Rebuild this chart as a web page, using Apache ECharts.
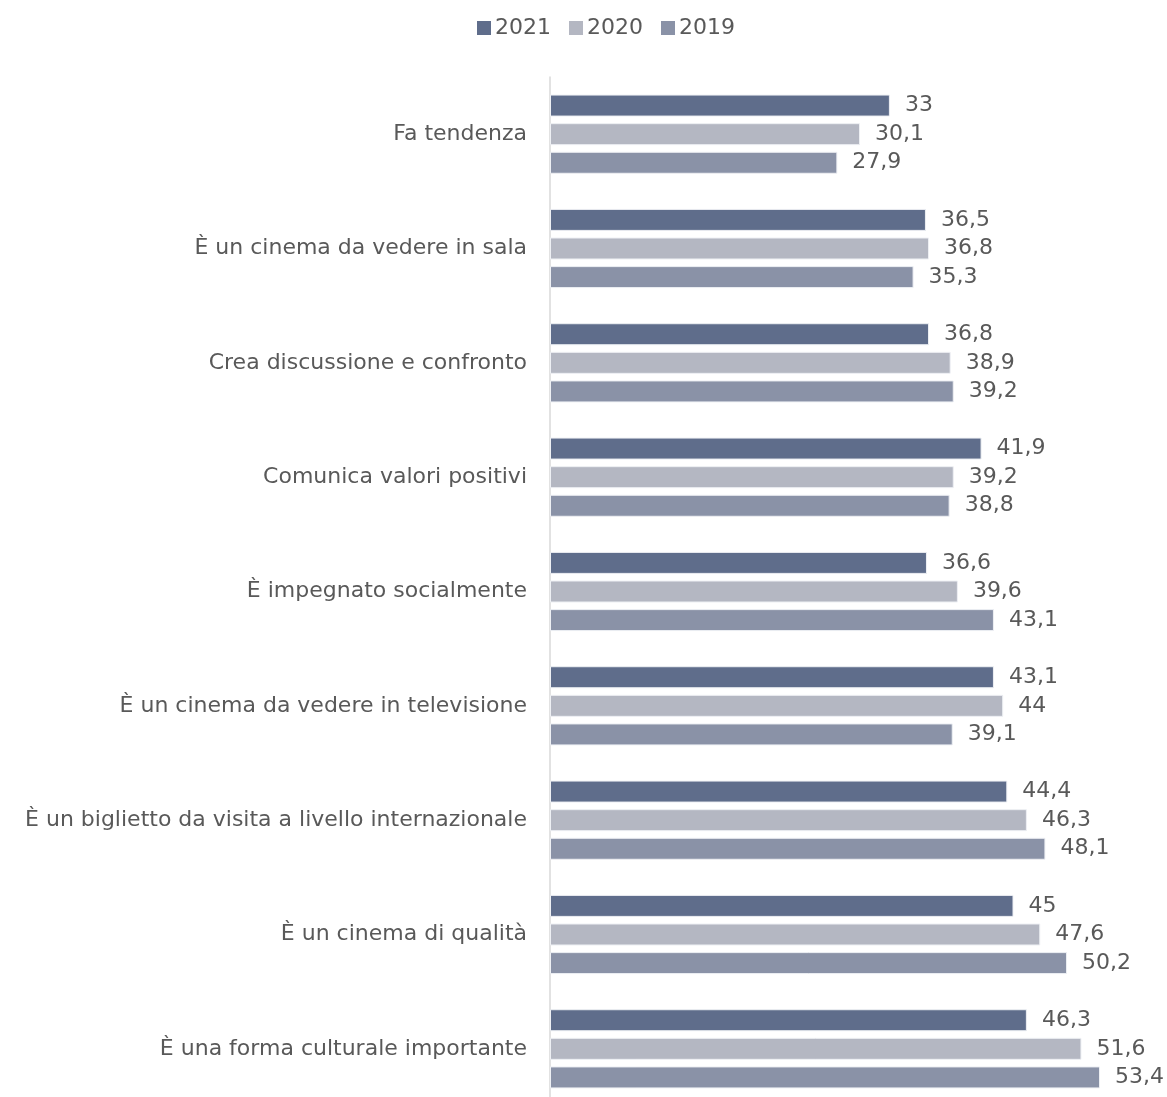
<!DOCTYPE html>
<html><head><meta charset="utf-8">
<script src="https://cdn.jsdelivr.net/npm/echarts@6/dist/echarts.min.js"></script>
<style>html,body{margin:0;padding:0;background:#fff}#c{width:1167px;height:1097px}</style>
</head><body><div id="c"></div>
<script>
const categories = ["Fa tendenza","È un cinema da vedere in sala","Crea discussione e confronto","Comunica valori positivi","È impegnato socialmente","È un cinema da vedere in televisione","È un biglietto da visita a livello internazionale","È un cinema di qualità","È una forma culturale importante"];
const seriesNames = ["2021","2020","2019"];
const v2021 = [33,36.5,36.8,41.9,36.6,43.1,44.4,45,46.3];
const v2020 = [30.1,36.8,38.9,39.2,39.6,44,46.3,47.6,51.6];
const v2019 = [27.9,35.3,39.2,38.8,43.1,39.1,48.1,50.2,53.4];
const colors = ["#5f6d8b","#b4b7c2","#8a92a7"];
const FONT = "DejaVu Sans";
const chart = echarts.init(document.getElementById('c'));
const values = [v2021, v2020, v2019];
chart.setOption({
  animation:false,
  textStyle:{fontFamily:FONT},
  legend:{top:12,left:472,itemWidth:14,itemHeight:14,itemGap:18,icon:'rect',
    itemStyle:{borderWidth:0},
    textStyle:{fontSize:22,color:'#595959',fontFamily:FONT,padding:[0,0,0,-1]},data:seriesNames},
  grid:{left:550,top:77,width:566.5,height:1029,outerBoundsMode:'none',containLabel:false},
  xAxis:{type:'value',min:0,max:55,show:false},
  yAxis:{type:'category',inverse:true,data:categories,
    axisLine:{show:true,lineStyle:{color:'#d9d9d9',width:1.5}},axisTick:{show:false},
    axisLabel:{fontSize:22,color:'#595959',margin:23,fontFamily:FONT}},
  series: seriesNames.map((n,i)=>({name:n,type:'bar',data:values[i],barWidth:22,barGap:'30%',
    itemStyle:{color:colors[i],borderColor:'#eef0f4',borderWidth:1},
    label:{show:true,position:'right',distance:15,fontSize:22,color:'#595959',fontFamily:FONT,
      formatter:p=>String(p.value).replace('.',',')}}))
});
</script></body></html>
